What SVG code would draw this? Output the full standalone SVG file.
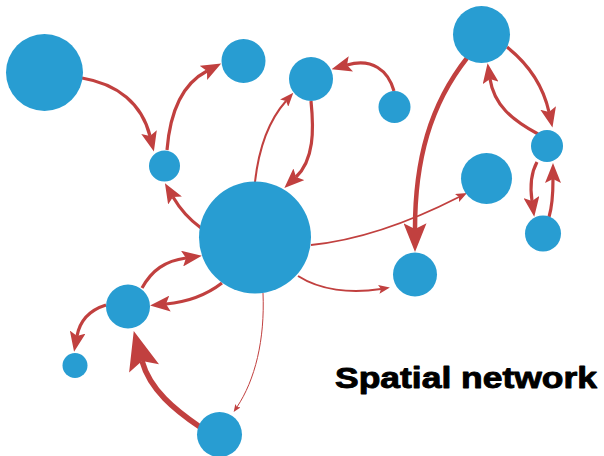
<svg xmlns="http://www.w3.org/2000/svg" width="604" height="456" viewBox="0 0 604 456">
  <style>
    .node { fill: #289dd2; }
    .edge { fill: none; stroke: #c1403f; stroke-linecap: butt; }
    .head { fill: #c1403f; }
    .title { font-family: "Liberation Sans", Arial, sans-serif; font-weight: bold; font-size: 29px; fill: #000; stroke: #000; stroke-width: 0.9; stroke-linejoin: round; }
  </style>
  <defs>
    <marker id="tiny" viewBox="0 0 10 8" refX="2" refY="4" markerUnits="userSpaceOnUse" markerWidth="8" markerHeight="6" orient="auto">
      <path class="head" d="M0,0 L10,4 L0,8 L2,4 z"/>
    </marker>
    <marker id="small" viewBox="0 0 10 8" refX="2" refY="4" markerUnits="userSpaceOnUse" markerWidth="12" markerHeight="9" orient="auto">
      <path class="head" d="M0,0 L10,4 L0,8 L2,4 z"/>
    </marker>
    <marker id="mid" viewBox="0 0 10 8" refX="2" refY="4" markerUnits="userSpaceOnUse" markerWidth="15" markerHeight="11" orient="auto">
      <path class="head" d="M0,0 L10,4 L0,8 L2,4 z"/>
    </marker>
    <marker id="std" viewBox="0 0 10 8" refX="2" refY="4" markerUnits="userSpaceOnUse" markerWidth="20" markerHeight="16" orient="auto">
      <path class="head" d="M0,0 L10,4 L0,8 L2,4 z"/>
    </marker>
    <marker id="large" viewBox="0 0 10 8" refX="2" refY="4" markerUnits="userSpaceOnUse" markerWidth="30" markerHeight="23" orient="auto">
      <path class="head" d="M0,0 L10,4 L0,8 L2,4 z"/>
    </marker>
    <marker id="xl" viewBox="0 0 10 8" refX="2" refY="4" markerUnits="userSpaceOnUse" markerWidth="40" markerHeight="31" orient="auto">
      <path class="head" d="M0,0 L10,4 L0,8 L2,4 z"/>
    </marker>
  </defs>

  <g id="connectors">
    <path class="edge" stroke-width="3.2" marker-end="url(#std)" d="M82,78 C118,84 142,104 150,136"/>
    <path class="edge" stroke-width="3.2" marker-end="url(#std)" d="M167,150 C170,112 182,84 207,71"/>
    <path class="edge" stroke-width="3.2" marker-end="url(#std)" d="M201,228 C190,220 180,209 173,197"/>
    <path class="edge" stroke-width="2" marker-end="url(#mid)" d="M255,182 C259,146 270,119 286,101"/>
    <path class="edge" stroke-width="3.2" marker-end="url(#std)" d="M311,101 C314,130 314,160 296,177"/>
    <path class="edge" stroke-width="3.2" marker-end="url(#std)" d="M394,91 C388,70 372,58 347,65"/>
    <path class="edge" stroke-width="4.5" marker-end="url(#large)" d="M467,58 C430,105 415,160 415,229"/>
    <path class="edge" stroke-width="3.2" marker-end="url(#std)" d="M507,47 C527,63 543,85 549,112"/>
    <path class="edge" stroke-width="3.2" marker-end="url(#std)" d="M538,134 C512,120 494,105 490,79"/>
    <path class="edge" stroke-width="3.2" marker-end="url(#std)" d="M537,162 C531,173 530,187 532,201"/>
    <path class="edge" stroke-width="3.2" marker-end="url(#std)" d="M549,217 C552,207 553,193 553,179"/>
    <path class="edge" stroke-width="1.8" marker-end="url(#small)" d="M311,245 C360,240 410,222 459,197"/>
    <path class="edge" stroke-width="2" marker-end="url(#small)" d="M298,276 C320,290 350,294 381,289"/>
    <path class="edge" stroke-width="3.2" marker-end="url(#std)" d="M142,288 C152,270 165,261 186,258"/>
    <path class="edge" stroke-width="3.2" marker-end="url(#std)" d="M222,283 C205,296 188,302 166,304"/>
    <path class="edge" stroke-width="3.2" marker-end="url(#std)" d="M106,305 C90,310 80,320 77,336"/>
    <path class="edge" stroke-width="5.5" marker-end="url(#xl)" d="M200,427 C175,410 150,390 142,361"/>
    <path class="edge" stroke-width="1" marker-end="url(#tiny)" d="M263,293 C265,340 255,380 237,407"/>
  </g>

  <g id="node-a"><circle class="node" cx="44.5" cy="72.5" r="38.5"/></g>
  <g id="node-b"><circle class="node" cx="164.5" cy="166" r="15.5"/></g>
  <g id="node-c"><circle class="node" cx="243.5" cy="61" r="22"/></g>
  <g id="node-d"><circle class="node" cx="311" cy="79" r="22"/></g>
  <g id="node-e"><circle class="node" cx="394.5" cy="107" r="16"/></g>
  <g id="node-f"><circle class="node" cx="481.5" cy="34.5" r="28.5"/></g>
  <g id="node-g"><circle class="node" cx="547" cy="146" r="16"/></g>
  <g id="node-h"><circle class="node" cx="486.5" cy="178.5" r="25.5"/></g>
  <g id="node-i"><circle class="node" cx="543" cy="233.5" r="18"/></g>
  <g id="node-j"><circle class="node" cx="415" cy="274.5" r="22"/></g>
  <g id="node-k"><circle class="node" cx="255" cy="237.5" r="56"/></g>
  <g id="node-l"><circle class="node" cx="128" cy="306.5" r="22"/></g>
  <g id="node-m"><circle class="node" cx="75" cy="365.5" r="12.5"/></g>
  <g id="node-n"><circle class="node" cx="219.5" cy="434.5" r="22.5"/></g>

  <text class="title" x="335" y="388" textLength="262" lengthAdjust="spacingAndGlyphs">Spatial network</text>
</svg>
